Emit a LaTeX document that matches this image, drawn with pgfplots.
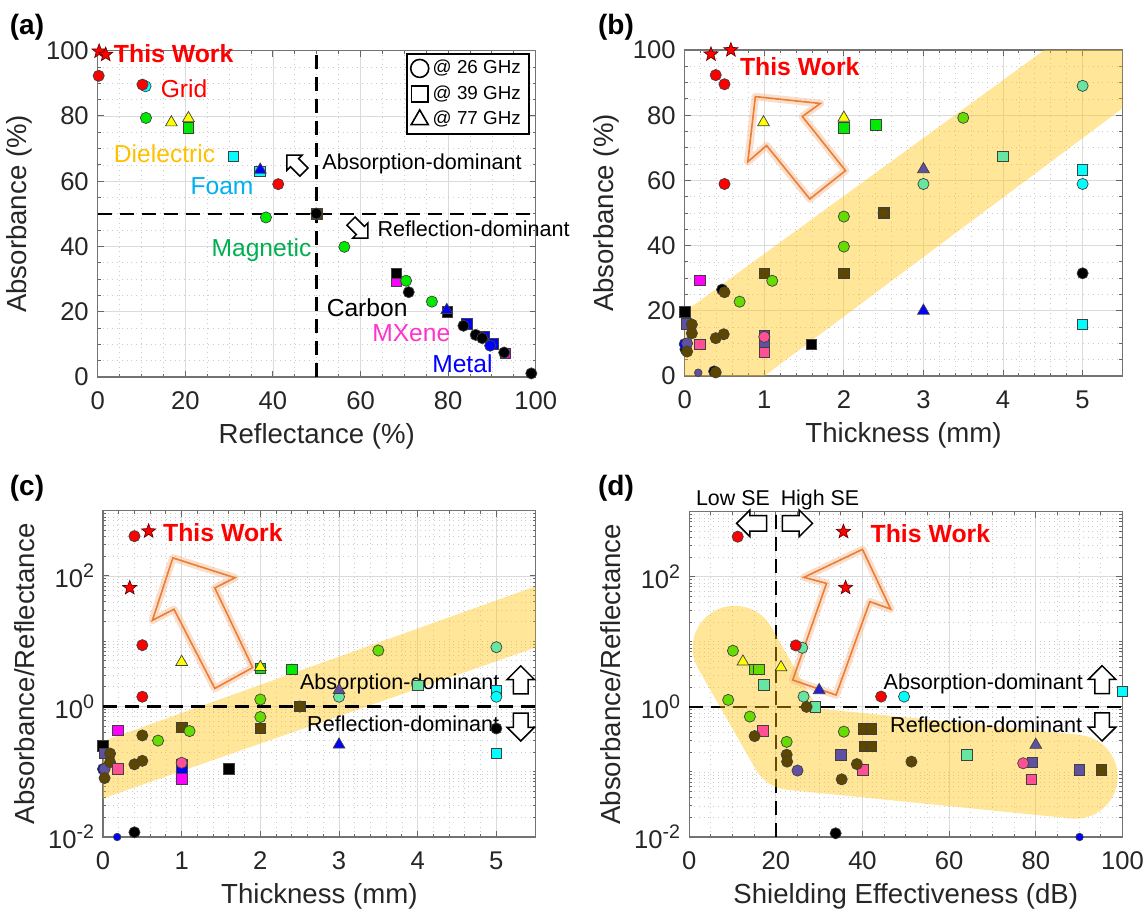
\documentclass[border=0pt]{standalone}
\usepackage{fontspec}
\setmainfont{Liberation Sans}
\usepackage{pgfplots}
\pgfplotsset{compat=1.18}
\usetikzlibrary{shapes.arrows}

\definecolor{cRed}{RGB}{255,0,0}
\definecolor{cCyan}{RGB}{0,255,255}
\definecolor{cGreen}{RGB}{0,235,0}
\definecolor{cLime}{RGB}{102,220,0}
\definecolor{cMint}{RGB}{102,230,160}
\definecolor{cYellow}{RGB}{255,255,0}
\definecolor{cBlue}{RGB}{0,0,255}
\definecolor{cMag}{RGB}{255,0,255}
\definecolor{cOlive}{RGB}{92,70,0}
\definecolor{cPurple}{RGB}{96,80,160}
\definecolor{cPink}{RGB}{255,80,150}
\definecolor{cBand}{RGB}{255,192,0}
\definecolor{cArrow}{RGB}{237,125,49}
\definecolor{tDiel}{RGB}{255,192,0}
\definecolor{tFoam}{RGB}{0,176,240}
\definecolor{tMag}{RGB}{0,176,80}
\definecolor{tMX}{RGB}{255,51,204}

\pgfdeclareplotmark{fstar}{%
  \pgfpathmoveto{\pgfpointpolar{90}{\pgfplotmarksize}}%
  \pgfpathlineto{\pgfpointpolar{126}{0.42\pgfplotmarksize}}%
  \pgfpathlineto{\pgfpointpolar{162}{\pgfplotmarksize}}%
  \pgfpathlineto{\pgfpointpolar{198}{0.42\pgfplotmarksize}}%
  \pgfpathlineto{\pgfpointpolar{234}{\pgfplotmarksize}}%
  \pgfpathlineto{\pgfpointpolar{270}{0.42\pgfplotmarksize}}%
  \pgfpathlineto{\pgfpointpolar{306}{\pgfplotmarksize}}%
  \pgfpathlineto{\pgfpointpolar{342}{0.42\pgfplotmarksize}}%
  \pgfpathlineto{\pgfpointpolar{18}{\pgfplotmarksize}}%
  \pgfpathlineto{\pgfpointpolar{54}{0.42\pgfplotmarksize}}%
  \pgfpathclose
  \pgfusepathqfillstroke}

\newcommand\tsup[1]{\raisebox{4.8pt}{\fontsize{9.8}{10}\selectfont #1}}

\pgfplotsset{
  C/.style={only marks, forget plot, mark=*, mark size=2.8pt, mark options={draw=black!75, line width=0.35pt, fill=#1}},
  S/.style={only marks, forget plot, mark=square*, mark size=2.6pt, mark options={draw=black!75, line width=0.35pt, fill=#1}},
  T/.style={only marks, forget plot, mark=triangle*, mark size=3.4pt, mark options={draw=black!75, line width=0.35pt, fill=#1}},
  STAR/.style={only marks, forget plot, mark=fstar, mark size=3.7pt, mark options={draw=black!60!red, line width=0.35pt, fill=cRed}},
  dashline/.style={forget plot, black, line width=1.3pt, dash pattern=on 7pt off 4pt},
  base/.style={
    anchor=south west, scale only axis, clip=false,
    grid=both,
    major grid style={gray!28, line width=0.4pt},
    minor grid style={gray!40, dotted, line width=0.4pt},
    axis line style={black!55, line width=0.6pt},
    tick style={black!60, line width=0.5pt},
    tick align=inside, major tick length=3pt, minor tick length=1.5pt,
    tick label style={font=\fontsize{12.8}{14}\selectfont, text=black!85},
    xticklabel style={yshift=-4pt},
    yticklabel style={xshift=-1pt},
    label style={font=\fontsize{13.8}{16}\selectfont, text=black!85},
    /pgf/number format/assume math mode=true,
  },
}
\tikzset{
  harrow/.style={single arrow, draw=black, fill=white, line width=0.75pt, inner xsep=0pt, single arrow tip angle=90},
  harrowA/.style={harrow, inner ysep=2.5pt, single arrow head extend=2.5pt, minimum height=12pt},
  harrowC/.style={harrow, inner ysep=3.25pt, single arrow head extend=3.25pt, minimum height=14pt},
  harrowD/.style={harrow, inner ysep=3.5pt, single arrow head extend=2.75pt, minimum height=15pt},
  glow/.style={cArrow!55, line width=3.8pt, opacity=0.45, line join=round},
  oarr/.style={cArrow, line width=0.8pt, line join=miter},
}

\begin{document}
\begin{tikzpicture}
\useasboundingbox (0,0) rectangle (573pt,459pt);

% ---------------- (a) ----------------
\begin{axis}[base, at={(48.9pt,270.5pt)}, width=218.95pt, height=163.15pt,
  xmin=0, xmax=100, ymin=0, ymax=100,
  xtick={0,20,...,100}, ytick={0,20,...,100},
  minor x tick num=3, minor y tick num=3,
  xlabel={Reflectance (\%)}, ylabel={Absorbance (\%)},
  legend style={at={(0.986,0.992)}, anchor=north east, draw=black, line width=0.8pt,
    font=\fontsize{9.4}{11}\selectfont, inner xsep=2pt, inner ysep=1pt, row sep=0.5pt, fill=white, cells={anchor=west}},
  legend cell align=left]
\addlegendimage{only marks, mark=o, mark size=4.5pt, black, mark options={line width=0.8pt}}
\addlegendentry{@ 26 GHz}
\addlegendimage{only marks, mark=square, mark size=4.1pt, black, mark options={line width=0.8pt}}
\addlegendentry{@ 39 GHz}
\addlegendimage{only marks, mark=triangle, mark size=4.9pt, black, mark options={line width=0.8pt}}
\addlegendentry{@ 77 GHz}
\addplot[dashline] coordinates {(50,0) (50,100)};
\addplot[dashline] coordinates {(0,50) (100,50)};
\addplot[C=cCyan] coordinates {(10.9,89.1)};
\addplot[C=cRed] coordinates {(0.2,92.3) (10.2,89.6) (41.2,59.1)};
\addplot[S=cMag] coordinates {(68.2,29.4) (93,7.2)};
\addplot[S=black] coordinates {(68.2,31.8) (79.8,20)};
\addplot[S=cBlue] coordinates {(84.3,16.3) (88.3,12.5) (90.3,10.2)};
\addplot[S=cOlive] coordinates {(50,50)};
\addplot[S=cGreen] coordinates {(20.7,76.3)};
\addplot[S=cCyan] coordinates {(30.9,67.6) (37,63)};
\addplot[C=cGreen] coordinates {(11,79.4) (38.4,48.9) (56.3,39.9) (70.4,29.5) (76.3,23.1)};
\addplot[C=black] coordinates {(49.9,50.1) (71,26) (83.5,15.7) (86.3,12.9) (87.8,11.9) (92.8,7.5) (99,1.1)};
\addplot[C=cBlue] coordinates {(89.6,9.6)};
\addplot[T=cYellow] coordinates {(16.8,78) (20.7,79.3)};
\addplot[T=cBlue] coordinates {(37.1,63.5) (79.7,20.5)};
\addplot[STAR] coordinates {(0.3,99.8) (1.8,98.8)};
\node[anchor=west, inner sep=0pt, font=\bfseries\fontsize{12.4}{14}\selectfont, text=cRed] at (axis cs:3.6,99.2) {This Work};
\node[anchor=west, inner sep=0pt, font=\fontsize{12.3}{14}\selectfont, text=cRed] at (axis cs:14.3,88.2) {Grid};
\node[anchor=west, inner sep=0pt, font=\fontsize{12.3}{14}\selectfont, text=tDiel] at (axis cs:3.6,68.3) {Dielectric};
\node[anchor=west, inner sep=0pt, font=\fontsize{12.3}{14}\selectfont, text=tFoam] at (axis cs:21.1,58.6) {Foam};
\node[anchor=west, inner sep=0pt, font=\fontsize{12.3}{14}\selectfont, text=tMag] at (axis cs:25.9,38.9) {Magnetic};
\node[anchor=west, inner sep=0pt, font=\fontsize{12.3}{14}\selectfont, text=black] at (axis cs:52.2,21.2) {Carbon};
\node[anchor=west, inner sep=0pt, font=\fontsize{12.3}{14}\selectfont, text=tMX] at (axis cs:62.6,13.4) {MXene};
\node[anchor=west, inner sep=0pt, font=\fontsize{12.3}{14}\selectfont, text=cBlue] at (axis cs:76.3,4.2) {Metal};
\node[anchor=west, inner sep=0pt, font=\fontsize{10.8}{12}\selectfont] at (axis cs:51.2,65.3) {Absorption-dominant};
\node[anchor=west, inner sep=0pt, font=\fontsize{10.8}{12}\selectfont] at (axis cs:63.8,45.3) {Reflection-dominant};
\node[harrowA, rotate=135] at (axis cs:45.6,64.8) {};
\node[harrowA, rotate=-45] at (axis cs:59.3,45.8) {};
\end{axis}

% ---------------- (b) ----------------
\begin{axis}[base, at={(342.35pt,271pt)}, width=218.85pt, height=163pt,
  xmin=0, xmax=5.5, ymin=0, ymax=100,
  xtick={0,1,...,5}, ytick={0,20,...,100},
  minor x tick num=4, minor y tick num=3,
  xlabel={Thickness (mm)}, ylabel={Absorbance (\%)}]
\addplot[forget plot, draw=none, fill=cBand, fill opacity=0.4] coordinates {(0,0) (0,19.7) (4.52,100) (5.5,100) (5.5,82.1) (1.0,0)} -- cycle;
\draw[glow] (axis cs:0.888,85.7) -- (axis cs:1.704,83.6) -- (axis cs:1.478,79.6) -- (axis cs:2.021,63.0) -- (axis cs:1.572,54.3) -- (axis cs:1.029,70.7) -- (axis cs:0.793,65.7) -- cycle;
\draw[oarr] (axis cs:0.888,85.7) -- (axis cs:1.704,83.6) -- (axis cs:1.478,79.6) -- (axis cs:2.021,63.0) -- (axis cs:1.572,54.3) -- (axis cs:1.029,70.7) -- (axis cs:0.793,65.7) -- cycle;
\addplot[S=black] coordinates {(0,19.7) (1.59,9.8)};
\addplot[S=cPurple] coordinates {(0.02,16) (1,12.3) (1,10)};
\addplot[C=black] coordinates {(0.47,26.5) (0.37,1.4) (0.01,8.2) (5,31.5)};
\addplot[C=cBlue] coordinates {(0,9.8)};
\addplot[C=cPurple] coordinates {(0.03,10)};
\addplot[S=cOlive] coordinates {(2.5,50) (1,31.5) (2,31.5)};
\addplot[C=cOlive] coordinates {(0.5,25.7) (0.09,15.8) (0.09,13.1) (0.39,11.6) (0.49,12.8) (0.03,7.5) (0.39,1.1) (2.5,50)};
\addplot[C=cPurple, mark size=1.9pt] coordinates {(0.17,1.0)};
\addplot[S=cPink] coordinates {(0.19,9.8) (1,7.2)};
\addplot[C=cPink] coordinates {(1,12)};
\addplot[S=cMag] coordinates {(0.19,29.4)};
\addplot[C=cLime] coordinates {(0.69,22.8) (1.1,29.2) (2,39.7) (2,48.9) (3.5,79.2)};
\addplot[C=cMint] coordinates {(3,58.9) (5,89)};
\addplot[S=cMint] coordinates {(4,67.3)};
\addplot[S=cCyan] coordinates {(5,63.2) (5,15.9)};
\addplot[C=cCyan] coordinates {(5,58.9)};
\addplot[T=cPurple] coordinates {(3,63.4)};
\addplot[T=cBlue] coordinates {(3,20)};
\addplot[S=cGreen] coordinates {(2,76.1) (2.4,77)};
\addplot[T=cYellow] coordinates {(0.99,77.8) (2,79.2)};
\addplot[C=cRed] coordinates {(0.39,92.3) (0.5,89.5) (0.5,58.9)};
\addplot[STAR] coordinates {(0.33,98.7) (0.58,100)};
\node[anchor=west, inner sep=0pt, font=\bfseries\fontsize{12.4}{14}\selectfont, text=cRed] at (axis cs:0.69,94.9) {This Work};
\end{axis}

% ---------------- (c) ----------------
\begin{axis}[base, at={(51.5pt,40.5pt)}, width=216.35pt, height=163.15pt,
  ymode=log, xmin=0, xmax=5.5, ymin=1e-2, ymax=1e3,
  xtick={0,1,...,5}, minor x tick num=4,
  ytick={1e-2,1,1e2}, yticklabels={10\tsup{-2},10\tsup{0},10\tsup{2}},
  minor ytick={0.02,0.03,0.04,0.05,0.06,0.07,0.08,0.09,0.1,0.2,0.3,0.4,0.5,0.6,0.7,0.8,0.9,2,3,4,5,6,7,8,9,10,20,30,40,50,60,70,80,90,200,300,400,500,600,700,800,900},
  xlabel={Thickness (mm)}, ylabel={Absorbance/Reflectance}]
\addplot[forget plot, draw=none, fill=cBand, fill opacity=0.4] coordinates {(0,0.294) (5.5,69.5) (5.5,8.0) (0,0.039)} -- cycle;
\addplot[dashline] coordinates {(0,1) (5.5,1)};
\draw[glow] (axis cs:0.888,189) -- (axis cs:1.676,94) -- (axis cs:1.421,65.5) -- (axis cs:1.903,3.95) -- (axis cs:1.421,1.89) -- (axis cs:0.902,30.9) -- (axis cs:0.628,20.9) -- cycle;
\draw[oarr] (axis cs:0.888,189) -- (axis cs:1.676,94) -- (axis cs:1.421,65.5) -- (axis cs:1.903,3.95) -- (axis cs:1.421,1.89) -- (axis cs:0.902,30.9) -- (axis cs:0.628,20.9) -- cycle;
\addplot[S=black] coordinates {(0,0.25) (1.6,0.11)};
\addplot[S=cPurple] coordinates {(0.02,0.19) (1,0.13)};
\addplot[S=cBlue] coordinates {(1,0.105)};
\addplot[C=cBlue] coordinates {(0,0.11)};
\addplot[C=cPurple] coordinates {(0.02,0.11)};
\addplot[S=cOlive] coordinates {(2.5,1.0) (1,0.48) (2,0.46)};
\addplot[C=cOlive] coordinates {(2.5,1.0) (0.5,0.36) (0.09,0.19) (0.09,0.14) (0.4,0.13) (0.5,0.147) (0.02,0.08)};
\addplot[S=cPink] coordinates {(0.19,0.11)};
\addplot[C=cPink] coordinates {(1,0.137)};
\addplot[S=cMag] coordinates {(0.19,0.43) (1,0.078)};
\addplot[C=black] coordinates {(5,0.46) (0.4,0.0118)};
\addplot[C=cBlue, mark size=1.9pt] coordinates {(0.18,0.01)};
\addplot[C=cLime] coordinates {(3.5,7.2) (2,1.28) (2,0.69) (1.1,0.42) (0.7,0.30)};
\addplot[C=cMint] coordinates {(5,8.1) (3,1.41)};
\addplot[S=cMint] coordinates {(4,2.1)};
\addplot[S=cCyan] coordinates {(5,1.78) (5,0.19)};
\addplot[C=cCyan] coordinates {(5,1.41)};
\addplot[T=cPurple] coordinates {(3,1.78)};
\addplot[T=cBlue] coordinates {(3,0.26)};
\addplot[S=cGreen] coordinates {(2,3.85) (2.4,3.74)};
\addplot[T=cYellow] coordinates {(1,4.8) (2,4.0)};
\addplot[C=cRed] coordinates {(0.4,407) (0.5,8.7) (0.5,1.41)};
\addplot[STAR] coordinates {(0.34,65.8) (0.58,485)};
\node[anchor=west, inner sep=0pt, font=\bfseries\fontsize{12.4}{14}\selectfont, text=cRed] at (axis cs:0.76,460) {This Work};
\node[anchor=west, inner sep=0pt, font=\fontsize{10.8}{12}\selectfont] at (axis cs:2.5,2.2) {Absorption-dominant};
\node[anchor=west, inner sep=0pt, font=\fontsize{10.8}{12}\selectfont] at (axis cs:2.59,0.54) {Reflection-dominant};
\node[harrowC, rotate=90] at (axis cs:5.31,2.25) {};
\node[harrowC, rotate=-90] at (axis cs:5.31,0.55) {};
\end{axis}

% ---------------- (d) ----------------
\begin{axis}[base, at={(344.6pt,40.5pt)}, width=216.6pt, height=162.65pt,
  ymode=log, xmin=0, xmax=100, ymin=1e-2, ymax=1e3,
  xtick={0,20,...,100}, minor x tick num=3,
  ytick={1e-2,1,1e2}, yticklabels={10\tsup{-2},10\tsup{0},10\tsup{2}},
  minor ytick={0.02,0.03,0.04,0.05,0.06,0.07,0.08,0.09,0.1,0.2,0.3,0.4,0.5,0.6,0.7,0.8,0.9,2,3,4,5,6,7,8,9,10,20,30,40,50,60,70,80,90,200,300,400,500,600,700,800,900},
  xlabel={Shielding Effectiveness (dB)}, ylabel={Absorbance/Reflectance}]
\addplot[dashline] coordinates {(0,1) (100,1)};
\addplot[dashline] coordinates {(20,0.01) (20,1000)};
\addplot[forget plot, draw=cBand, draw opacity=0.4, line width=42pt, line cap=round, line join=round] coordinates {(10.5,8.1) (23.7,0.233) (89.2,0.0845)};
\draw[glow] (axis cs:40.0,264) -- (axis cs:46.5,31.9) -- (axis cs:41.7,41.4) -- (axis cs:33.9,1.52) -- (axis cs:23.9,2.59) -- (axis cs:31.7,79.2) -- (axis cs:26.5,98) -- cycle;
\draw[oarr] (axis cs:40.0,264) -- (axis cs:46.5,31.9) -- (axis cs:41.7,41.4) -- (axis cs:33.9,1.52) -- (axis cs:23.9,2.59) -- (axis cs:31.7,79.2) -- (axis cs:26.5,98) -- cycle;
\addplot[S=cPurple] coordinates {(35,0.184) (79.2,0.14) (90.1,0.107)};
\addplot[S=cOlive] coordinates {(40.3,0.46) (42,0.46) (40.5,0.25) (42,0.25) (95.1,0.107)};
\addplot[S=cMint] coordinates {(17.2,2.17) (29.1,1.0) (64.1,0.184)};
\addplot[S=cPink] coordinates {(17,0.43) (40.1,0.107) (79,0.077)};
\addplot[S=cLime] coordinates {(15.1,3.78) (16.1,3.78)};
\addplot[C=cOlive] coordinates {(27.1,1.0) (15.1,0.356) (22.5,0.184) (22.6,0.144) (38.7,0.132) (35.2,0.077) (51.3,0.144)};
\addplot[C=cPurple] coordinates {(25,0.105)};
\addplot[C=cPink] coordinates {(77.1,0.136)};
\addplot[C=cLime] coordinates {(10.1,7.3) (9.0,1.28) (14,0.71) (35.7,0.416) (22.5,0.29)};
\addplot[C=cMint] coordinates {(26.1,8.1) (26.4,1.44)};
\addplot[C=cRed] coordinates {(24.6,8.8) (11.2,413) (44.3,1.44)};
\addplot[C=cCyan] coordinates {(49.6,1.44)};
\addplot[S=cCyan] coordinates {(100,1.75)};
\addplot[C=black] coordinates {(33.8,0.0114)};
\addplot[C=cBlue, mark size=1.9pt] coordinates {(90.1,0.01)};
\addplot[T=cYellow] coordinates {(12.4,4.95) (21.2,4.05)};
\addplot[T=cPurple] coordinates {(80,0.26)};
\addplot[T=cPurple!40!cBlue] coordinates {(30,1.8)};
\addplot[STAR] coordinates {(35.6,493) (36.1,68)};
\node[anchor=west, inner sep=0pt, font=\bfseries\fontsize{12.4}{14}\selectfont, text=cRed] at (axis cs:41.8,454) {This Work};
\node[anchor=west, inner sep=0pt, font=\fontsize{10.8}{12}\selectfont] at (axis cs:44.8,2.24) {Absorption-dominant};
\node[anchor=west, inner sep=0pt, font=\fontsize{10.8}{12}\selectfont] at (axis cs:46.3,0.53) {Reflection-dominant};
\node[harrowC, rotate=90] at (axis cs:95.3,2.3) {};
\node[harrowC, rotate=-90] at (axis cs:95.3,0.56) {};
\node[harrowD, rotate=180] at (axis cs:15.3,661) {};
\node[harrowD] at (axis cs:24.1,661) {};
\node[anchor=base, inner sep=0pt, font=\fontsize{10.7}{12}\selectfont, yshift=2.9pt] at (axis cs:10.1,1000) {Low SE};
\node[anchor=base, inner sep=0pt, font=\fontsize{10.7}{12}\selectfont, yshift=2.9pt] at (axis cs:30.2,1000) {High SE};
\end{axis}

% panel labels
\node[font=\bfseries\fontsize{14}{16}\selectfont] at (13.5pt,445.5pt) {(a)};
\node[font=\bfseries\fontsize{14}{16}\selectfont] at (308pt,445.5pt) {(b)};
\node[font=\bfseries\fontsize{14}{16}\selectfont] at (13.5pt,215pt) {(c)};
\node[font=\bfseries\fontsize{14}{16}\selectfont] at (308pt,215pt) {(d)};
\end{tikzpicture}
\end{document}
